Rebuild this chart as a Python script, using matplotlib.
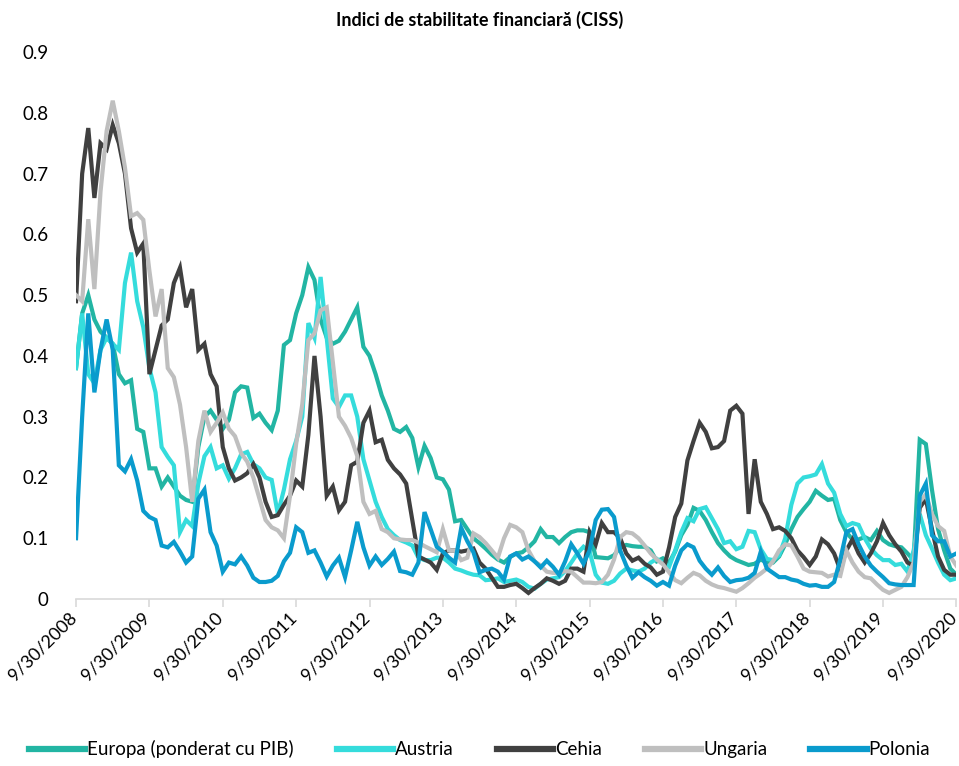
import numpy as np
import matplotlib
matplotlib.use('Agg')
import matplotlib.pyplot as plt
import matplotlib.transforms as mtransforms

plt.rcParams['font.family'] = ['Lato', 'DejaVu Sans']

# monthly CISS values, Sep 2008 - Sep 2020 (12 values per row)
europa = [
    0.38, 0.47, 0.50, 0.46, 0.44, 0.43, 0.42, 0.37, 0.355, 0.36, 0.28, 0.275,
    0.215, 0.215, 0.185, 0.20, 0.185, 0.17, 0.163, 0.16, 0.25, 0.30, 0.31, 0.295,
    0.28, 0.295, 0.34, 0.35, 0.348, 0.298, 0.305, 0.29, 0.278, 0.31, 0.418, 0.426,
    0.47, 0.50, 0.546, 0.525, 0.46, 0.43, 0.42, 0.425, 0.44, 0.46, 0.48, 0.415,
    0.40, 0.37, 0.335, 0.31, 0.28, 0.275, 0.283, 0.265, 0.217, 0.252, 0.232, 0.20,
    0.197, 0.18, 0.128, 0.13, 0.115, 0.10, 0.092, 0.083, 0.073, 0.065, 0.06, 0.069,
    0.075, 0.077, 0.085, 0.095, 0.115, 0.102, 0.102, 0.092, 0.102, 0.11, 0.113, 0.113,
    0.11, 0.069, 0.068, 0.067, 0.072, 0.085, 0.089, 0.087, 0.086, 0.086, 0.08, 0.062,
    0.067, 0.06, 0.078, 0.105, 0.122, 0.15, 0.145, 0.13, 0.11, 0.092, 0.08, 0.07,
    0.064, 0.06, 0.056, 0.058, 0.065, 0.06, 0.06, 0.07, 0.09, 0.115, 0.135, 0.148,
    0.16, 0.178, 0.17, 0.163, 0.165, 0.13, 0.11, 0.098, 0.098, 0.102, 0.097, 0.112,
    0.097, 0.09, 0.087, 0.085, 0.075, 0.064, 0.262, 0.255, 0.18, 0.115, 0.08, 0.05,
    0.04,
]
austria = [
    0.38, 0.47, 0.37, 0.355, 0.41, 0.43, 0.42, 0.41, 0.52, 0.57, 0.49, 0.447,
    0.38, 0.34, 0.25, 0.234, 0.22, 0.11, 0.13, 0.12, 0.19, 0.235, 0.25, 0.215,
    0.22, 0.198, 0.215, 0.238, 0.242, 0.222, 0.215, 0.20, 0.196, 0.14, 0.18, 0.23,
    0.26, 0.30, 0.454, 0.43, 0.53, 0.43, 0.33, 0.316, 0.335, 0.335, 0.30, 0.23,
    0.195, 0.16, 0.135, 0.115, 0.105, 0.097, 0.093, 0.088, 0.068, 0.064, 0.064, 0.068,
    0.068, 0.06, 0.05, 0.047, 0.043, 0.04, 0.039, 0.031, 0.032, 0.034, 0.028, 0.03,
    0.032, 0.028, 0.02, 0.017, 0.025, 0.032, 0.034, 0.036, 0.046, 0.06, 0.075, 0.086,
    0.078, 0.04, 0.027, 0.025, 0.03, 0.042, 0.05, 0.047, 0.045, 0.05, 0.06, 0.066,
    0.059, 0.053, 0.08, 0.11, 0.133, 0.128, 0.148, 0.151, 0.133, 0.115, 0.092, 0.095,
    0.082, 0.086, 0.112, 0.11, 0.082, 0.066, 0.064, 0.072, 0.10, 0.155, 0.19, 0.20,
    0.202, 0.205, 0.222, 0.19, 0.175, 0.14, 0.12, 0.125, 0.122, 0.10, 0.083, 0.072,
    0.064, 0.064, 0.056, 0.058, 0.045, 0.08, 0.14, 0.105, 0.083, 0.06, 0.04, 0.031,
    0.034,
]
cehia = [
    0.49, 0.70, 0.775, 0.66, 0.75, 0.74, 0.78, 0.75, 0.70, 0.61, 0.57, 0.585,
    0.37, 0.41, 0.45, 0.46, 0.52, 0.545, 0.48, 0.51, 0.41, 0.42, 0.37, 0.35,
    0.25, 0.215, 0.195, 0.20, 0.207, 0.222, 0.20, 0.16, 0.135, 0.138, 0.155, 0.17,
    0.195, 0.185, 0.27, 0.40, 0.30, 0.17, 0.185, 0.146, 0.16, 0.22, 0.226, 0.29,
    0.31, 0.258, 0.262, 0.229, 0.215, 0.205, 0.19, 0.13, 0.07, 0.065, 0.06, 0.048,
    0.075, 0.08, 0.08, 0.078, 0.08, 0.083, 0.06, 0.05, 0.035, 0.02, 0.02, 0.023,
    0.025, 0.018, 0.01, 0.018, 0.025, 0.034, 0.03, 0.025, 0.03, 0.05, 0.05, 0.045,
    0.11, 0.09, 0.125, 0.11, 0.11, 0.10, 0.075, 0.063, 0.068, 0.058, 0.052, 0.04,
    0.045, 0.085, 0.135, 0.157, 0.228, 0.26, 0.29, 0.275, 0.248, 0.25, 0.26, 0.31,
    0.318, 0.305, 0.14, 0.23, 0.16, 0.14, 0.115, 0.118, 0.112, 0.10, 0.08, 0.069,
    0.056, 0.07, 0.098, 0.09, 0.075, 0.048, 0.08, 0.098, 0.075, 0.06, 0.075, 0.095,
    0.125, 0.105, 0.09, 0.078, 0.06, 0.055, 0.15, 0.165, 0.115, 0.07, 0.048, 0.04,
    0.04,
]
ungaria = [
    0.50, 0.49, 0.625, 0.51, 0.67, 0.77, 0.82, 0.77, 0.71, 0.63, 0.635, 0.624,
    0.54, 0.465, 0.51, 0.38, 0.365, 0.32, 0.25, 0.16, 0.26, 0.31, 0.275, 0.29,
    0.307, 0.28, 0.268, 0.24, 0.226, 0.20, 0.165, 0.13, 0.118, 0.113, 0.10, 0.17,
    0.255, 0.32, 0.426, 0.437, 0.475, 0.48, 0.39, 0.30, 0.285, 0.265, 0.235, 0.16,
    0.14, 0.145, 0.115, 0.11, 0.10, 0.098, 0.097, 0.097, 0.093, 0.087, 0.082, 0.077,
    0.115, 0.08, 0.08, 0.064, 0.068, 0.108, 0.102, 0.092, 0.08, 0.068, 0.10, 0.122,
    0.118, 0.11, 0.08, 0.062, 0.055, 0.045, 0.043, 0.043, 0.046, 0.045, 0.036, 0.027,
    0.027, 0.026, 0.028, 0.04, 0.065, 0.102, 0.11, 0.108, 0.10, 0.088, 0.075, 0.065,
    0.057, 0.044, 0.031, 0.026, 0.035, 0.043, 0.039, 0.03, 0.024, 0.02, 0.018, 0.015,
    0.012, 0.018, 0.026, 0.035, 0.042, 0.05, 0.062, 0.08, 0.09, 0.088, 0.07, 0.05,
    0.045, 0.044, 0.043, 0.037, 0.04, 0.038, 0.08, 0.06, 0.045, 0.036, 0.034, 0.024,
    0.015, 0.01, 0.015, 0.02, 0.036, 0.06, 0.16, 0.172, 0.14, 0.12, 0.112, 0.07,
    0.055,
]
polonia = [
    0.10, 0.30, 0.47, 0.34, 0.41, 0.46, 0.41, 0.22, 0.21, 0.23, 0.195, 0.145,
    0.135, 0.13, 0.088, 0.085, 0.094, 0.078, 0.06, 0.07, 0.165, 0.18, 0.11, 0.088,
    0.045, 0.06, 0.057, 0.07, 0.055, 0.035, 0.028, 0.028, 0.03, 0.038, 0.062, 0.076,
    0.118, 0.11, 0.076, 0.08, 0.06, 0.037, 0.055, 0.068, 0.036, 0.08, 0.127, 0.085,
    0.055, 0.07, 0.056, 0.066, 0.078, 0.046, 0.044, 0.04, 0.06, 0.143, 0.115, 0.086,
    0.078, 0.068, 0.06, 0.117, 0.095, 0.077, 0.044, 0.048, 0.05, 0.045, 0.032, 0.07,
    0.075, 0.065, 0.07, 0.062, 0.052, 0.063, 0.053, 0.04, 0.062, 0.09, 0.075, 0.058,
    0.08, 0.13, 0.147, 0.148, 0.135, 0.08, 0.055, 0.035, 0.044, 0.036, 0.03, 0.022,
    0.028, 0.022, 0.055, 0.08, 0.09, 0.085, 0.063, 0.05, 0.04, 0.052, 0.038, 0.028,
    0.031, 0.032, 0.035, 0.043, 0.078, 0.05, 0.043, 0.036, 0.036, 0.032, 0.03, 0.025,
    0.022, 0.023, 0.02, 0.02, 0.028, 0.065, 0.11, 0.115, 0.09, 0.07, 0.055, 0.045,
    0.036, 0.026, 0.024, 0.023, 0.023, 0.023, 0.17, 0.19, 0.105, 0.095, 0.095, 0.07,
    0.075,
]

names = ['Europa (ponderat cu PIB)', 'Austria', 'Cehia', 'Ungaria', 'Polonia']
colors = ['#22B5A3', '#35DCDC', '#404040', '#BFBFBF', '#0A9BCD']
year_labels = ['9/30/%d' % y for y in range(2008, 2021)]

months = np.arange(len(europa))

fig = plt.figure(figsize=(9.59, 7.66), dpi=100)
ax = fig.add_axes([0.0793, 0.218, 0.918, 0.714])

for vals, name, col in zip([europa, austria, cehia, ungaria, polonia], names, colors):
    ax.plot(months, vals, color=col, lw=3.0, label=name, solid_joinstyle='miter')

ax.set_xlim(0, len(europa) - 1)
ax.set_ylim(0, 0.9)
ax.set_yticks(np.arange(0, 0.91, 0.1))
ax.set_yticklabels(['0'] + ['%.1f' % v for v in np.arange(0.1, 0.91, 0.1)])

year_ticks = np.arange(0, len(europa), 12)
ax.set_xticks(year_ticks)
ax.set_xticklabels([])

# rotated date labels, anchored just left of and below each tick
base = mtransforms.blended_transform_factory(ax.transData, ax.transAxes)
offset = mtransforms.ScaledTranslation(-8 / 100, -10 / 100, fig.dpi_scale_trans)
for xt, lab in zip(year_ticks, year_labels):
    ax.text(xt, 0, lab, transform=base + offset, rotation=45, ha='right', va='top',
            rotation_mode='anchor', fontsize=13, clip_on=False)

for s in ['top', 'right', 'left']:
    ax.spines[s].set_visible(False)
ax.spines['bottom'].set_color('#D9D9D9')
ax.spines['bottom'].set_linewidth(1.2)
ax.tick_params(axis='y', length=0, pad=20, labelsize=13.5)
ax.tick_params(axis='x', length=6, width=1.2, color='#D9D9D9')

fig.text(0.5, 0.974, 'Indici de stabilitate financiară (CISS)', ha='center', va='center',
         fontsize=13, fontweight='bold')

leg = fig.legend(loc='lower center', bbox_to_anchor=(0.5, -0.012), ncol=5, frameon=False,
                 fontsize=13.5, handlelength=3.0, handletextpad=0.1, columnspacing=2.3)
for h in leg.get_lines():
    h.set_linewidth(4.5)

fig.savefig('out.png', dpi=100)
